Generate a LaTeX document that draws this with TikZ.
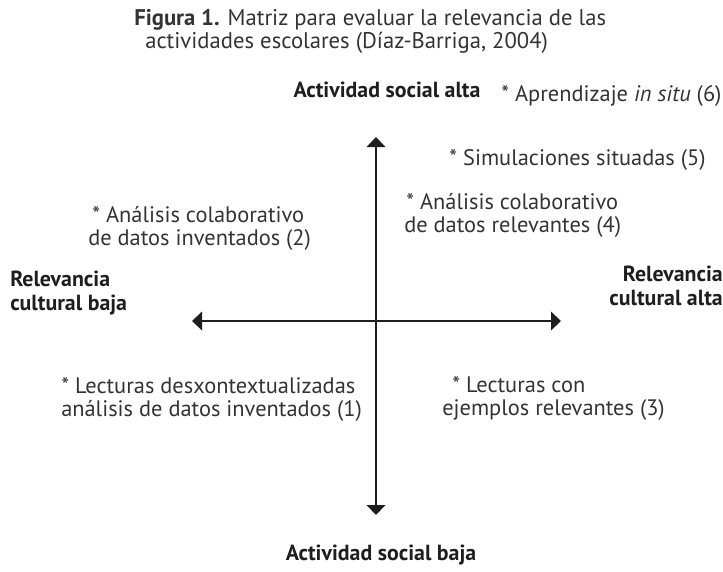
\documentclass[tikz,border=0pt]{standalone}
\usepackage{fontspec}
\setmainfont{PT Sans}
\usetikzlibrary{arrows.meta}
\definecolor{txt}{HTML}{333333}
\definecolor{lbl}{HTML}{1E1E1E}
\begin{document}
\begin{tikzpicture}[x=0.75pt,y=-0.75pt,
  body/.style={inner sep=0pt,text=txt,font=\fontsize{16.8}{17.25}\selectfont,align=left},
  ttl/.style={inner sep=0pt,text=txt,font=\fontsize{17}{18}\selectfont},
  axislbl/.style={inner sep=0pt,text=lbl,font=\fontsize{16.4}{17.5}\selectfont\bfseries},
  axis/.style={line width=1.1pt,draw=lbl,{Triangle[length=7.5pt,width=14pt]}-{Triangle[length=7.5pt,width=14pt]}}]
\useasboundingbox (0,0) rectangle (723,571);
% title
\node[ttl,anchor=base west] (t1) at (134,25) {\textbf{Figura 1.} Matriz para evaluar la relevancia de las};
\node[ttl,anchor=base west] (t2) at (145,48) {actividades escolares (Díaz-Barriga, 2004)};
% axis endpoints
\coordinate (top) at (376,137);
\coordinate (bot) at (376,515);
\coordinate (left) at (192,321);
\coordinate (right) at (561,321);
\draw[axis] (top) -- (bot);
\draw[axis] (left) -- (right);
% axis labels
\node[axislbl,anchor=base] (asa) at (387,97) {Actividad social alta};
\node[axislbl,anchor=base] (asb) at (381,560) {Actividad social baja};
\node[axislbl,anchor=base west,align=left] (rcb) at (10,310) {Relevancia\\cultural baja};
\node[axislbl,anchor=base east,align=right] (rca) at (723,305) {Relevancia\\cultural alta};
% items
\node[body,anchor=base west] (i6) at (501,101) {* Aprendizaje \textit{in situ} (6)};
\node[body,anchor=base west] (i5) at (449,165) {* Simulaciones situadas (5)};
\node[body,anchor=base west] (i4) at (404,232) {\hspace*{1.5pt}* Análisis colaborativo\\de datos relevantes (4)};
\node[body,anchor=base west] (i2) at (88,245) {\hspace*{3pt}* Análisis colaborativo\\de datos inventados (2)};
\node[body,anchor=base west] (i1) at (61,416) {* Lecturas desxontextualizadas\\análisis de datos inventados (1)};
\node[body,anchor=base west] (i3) at (442,415) {\hspace*{7.5pt}* Lecturas con\\ejemplos relevantes (3)};
\end{tikzpicture}
\end{document}
